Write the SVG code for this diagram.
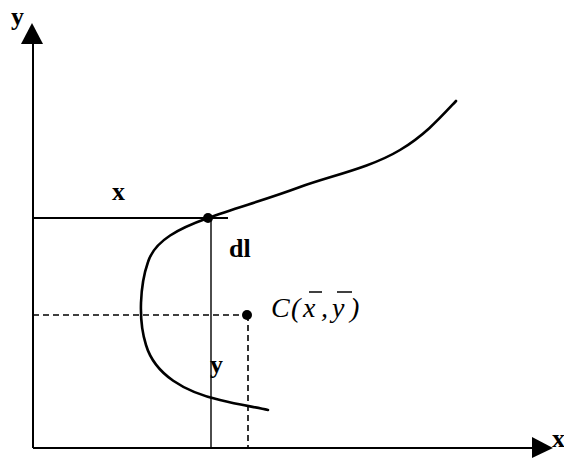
<svg xmlns="http://www.w3.org/2000/svg" width="564" height="459" viewBox="0 0 564 459">
<style>
.lbl{font-family:"Liberation Serif","Times New Roman",serif;font-size:26px;fill:#000}
.b{font-weight:bold}
.it{font-style:italic;font-size:28px}
.axis{stroke:#000;stroke-width:2;fill:none}
.thin{stroke:#000;stroke-width:1.4;fill:none}
.dash{stroke:#000;stroke-width:1.6;fill:none;stroke-dasharray:6 4}
.curve{stroke:#000;stroke-width:2.6;fill:none;stroke-linecap:round}
.bar{stroke:#000;stroke-width:1.5}
</style>
<rect width="564" height="459" fill="#fff"/>
<g id="connectors">
<line class="axis" x1="33" y1="448" x2="33" y2="40"/>
<polygon points="32,23 21,44 43,44" fill="#000"/>
<line class="axis" x1="33" y1="448" x2="535" y2="448"/>
<polygon points="553,448 532,437 532,458" fill="#000"/>
<line class="axis" x1="33" y1="218" x2="228" y2="218"/>
<line class="thin" x1="211" y1="218" x2="211" y2="448"/>
<line class="dash" x1="33" y1="315" x2="247" y2="315"/>
<line class="dash" x1="248" y1="315" x2="248" y2="448"/>
</g>
<g id="curve">
<path class="curve" d="M456,101 C440,118 425,135 400,150 C370,168 330,176 300,187 C265,200 235,208 208,218 C180,228 155,240 148,262 C140,285 138,320 146,345 C155,375 185,392 220,400 C240,405 255,407 268,410"/>
</g>
<g id="point-dl">
<circle cx="208" cy="218" r="5" fill="#000"/>
</g>
<g id="point-C">
<circle cx="247" cy="315" r="5" fill="#000"/>
<text class="lbl it" x="271" y="317">C</text>
<text class="lbl it" x="291" y="317">(</text>
<text class="lbl it" x="303" y="317">x</text>
<line class="bar" x1="309" y1="292" x2="322" y2="292"/>
<text class="lbl it" x="321" y="317">,</text>
<text class="lbl it" x="332" y="317">y</text>
<line class="bar" x1="337" y1="292" x2="352" y2="292"/>
<text class="lbl it" x="350" y="317">)</text>
</g>
<g id="labels">
<text class="lbl b" x="11" y="25">y</text>
<text class="lbl b" x="552" y="447">x</text>
<text class="lbl b" x="112" y="200">x</text>
<text class="lbl b" x="229" y="257">dl</text>
<text class="lbl b" x="210" y="373">y</text>
</g>
</svg>
